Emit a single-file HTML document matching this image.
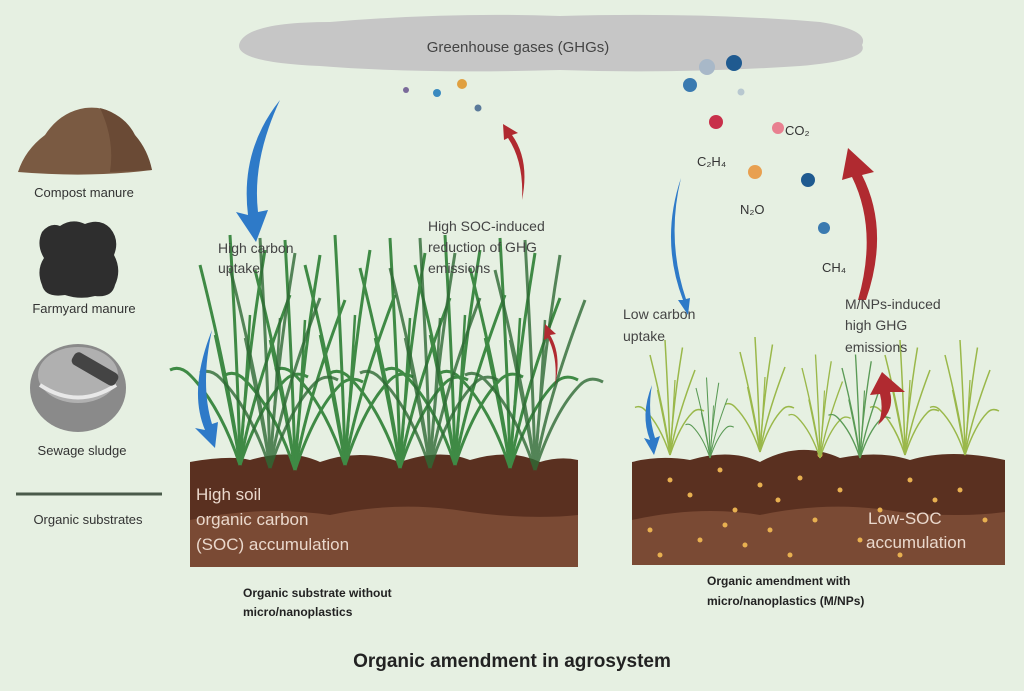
<!DOCTYPE html>
<html><head><meta charset="utf-8"><style>
html,body{margin:0;padding:0;background:#e6f0e2;}
svg{display:block;}
text{font-family:"Liberation Sans",sans-serif;}
</style></head><body>
<svg width="1024" height="691" viewBox="0 0 1024 691" xmlns="http://www.w3.org/2000/svg">
<defs>
<g id="clump">
<path d="M0,0 Q-10,-80 -40,-200" stroke="currentColor" stroke-width="3" fill="none"/>
<path d="M0,0 Q-2,-90 -10,-230" stroke="currentColor" stroke-width="3" fill="none"/>
<path d="M0,0 Q6,-100 25,-215" stroke="currentColor" stroke-width="3" fill="none"/>
<path d="M0,0 Q12,-70 50,-170" stroke="currentColor" stroke-width="3" fill="none"/>
<path d="M0,0 Q-20,-60 -50,-90 Q-60,-100 -70,-95" stroke="currentColor" stroke-width="3" fill="none"/>
<path d="M0,0 Q20,-60 45,-85 Q55,-95 68,-88" stroke="currentColor" stroke-width="3" fill="none"/>
<path d="M0,0 Q-8,-50 -25,-130" stroke="currentColor" stroke-width="2.5" fill="none"/>
<path d="M0,0 Q5,-60 10,-150" stroke="currentColor" stroke-width="2.5" fill="none"/>
</g>
</defs>
<rect width="1024" height="691" fill="#e6f0e2"/>
<path d="M240,42 Q250,22 330,22 Q450,12 560,16 Q700,12 820,22 Q870,30 862,45 Q870,60 800,66 Q680,74 560,70 Q420,74 320,66 Q230,62 240,42Z" fill="#c6c6c6"/>
<text x="518" y="52" text-anchor="middle" font-size="15" fill="#444">Greenhouse gases (GHGs)</text>
<circle cx="406" cy="90" r="3" fill="#7a6a9a"/><circle cx="437" cy="93" r="4" fill="#3a8ac0"/>
<circle cx="462" cy="84" r="5" fill="#e0a040"/><circle cx="478" cy="108" r="3.5" fill="#5a7a9a"/>
<circle cx="690" cy="85" r="7" fill="#3a7ab0"/><circle cx="707" cy="67" r="8" fill="#a8b8c8"/>
<circle cx="734" cy="63" r="8" fill="#1f5a90"/><circle cx="741" cy="92" r="3.5" fill="#b8c8d0"/>
<circle cx="716" cy="122" r="7" fill="#c8304a"/><circle cx="778" cy="128" r="6" fill="#e88090"/>
<circle cx="755" cy="172" r="7" fill="#e8a050"/><circle cx="808" cy="180" r="7" fill="#1f5a90"/>
<circle cx="824" cy="228" r="6" fill="#3a7ab0"/>
<g font-size="13" fill="#333">
<text x="697" y="166">C₂H₄</text><text x="785" y="135">CO₂</text><text x="740" y="214">N₂O</text><text x="822" y="272">CH₄</text>
</g>
<path d="M18,172 Q25,150 45,135 Q60,112 85,108 Q112,105 125,125 Q145,145 152,170 Q90,178 18,172Z" fill="#7a5a42"/>
<path d="M100,108 Q125,115 135,135 Q148,150 152,170 L110,172 Q115,140 100,108Z" fill="#6a4a35"/>
<text x="84" y="197" text-anchor="middle" font-size="13" fill="#333">Compost manure</text>
<path d="M42,232 Q50,222 60,226 Q72,218 85,224 Q100,218 110,228 Q120,240 114,255 Q122,270 115,285 Q112,298 95,296 Q80,300 65,295 Q45,298 42,285 Q36,270 44,258 Q36,245 42,232Z" fill="#2e2e2e"/>
<text x="84" y="313" text-anchor="middle" font-size="13" fill="#333">Farmyard manure</text>
<ellipse cx="78" cy="388" rx="48" ry="44" fill="#8a8a8a"/>
<ellipse cx="78" cy="375" rx="40" ry="28" fill="#b0b0b0"/>
<path d="M40,385 Q78,410 116,385" stroke="#e8e8e8" stroke-width="4" fill="none"/>
<rect x="70" y="362" width="50" height="14" rx="5" fill="#444" transform="rotate(30 95 369)"/>
<text x="82" y="455" text-anchor="middle" font-size="13" fill="#333">Sewage sludge</text>
<line x1="16" y1="494" x2="162" y2="494" stroke="#4a5a4a" stroke-width="3"/>
<text x="88" y="524" text-anchor="middle" font-size="13" fill="#333">Organic substrates</text>
<path d="M190,462 Q230,455 250,460 Q290,448 320,462 Q360,448 400,462 Q440,448 470,460 Q510,448 540,462 Q560,456 578,460 L578,567 L190,567Z" fill="#5a3020"/>
<path d="M190,520 Q260,505 330,515 Q400,500 470,512 Q530,520 578,515 L578,567 L190,567Z" fill="#7a4a34"/>
<g font-size="17" fill="#ead8cc">
<text x="196" y="500">High soil</text><text x="196" y="525">organic carbon</text><text x="196" y="550">(SOC) accumulation</text>
</g>
<g color="#3f8a45"><use href="#clump" x="240" y="465"/><use href="#clump" x="295" y="470"/><use href="#clump" x="345" y="465"/><use href="#clump" x="400" y="468"/><use href="#clump" x="455" y="465"/><use href="#clump" x="510" y="468"/></g>
<g color="#2f6a35" opacity="0.8"><use href="#clump" x="270" y="468"/><use href="#clump" x="430" y="468"/><use href="#clump" x="535" y="470"/></g>
<g font-size="12" font-weight="bold" fill="#222">
<text x="243" y="597">Organic substrate without</text><text x="243" y="616">micro/nanoplastics</text>
</g>
<path d="M632,462 Q660,455 690,460 Q730,448 760,462 Q800,440 840,458 Q880,450 910,460 Q950,448 1005,460 L1005,565 L632,565Z" fill="#5a3020"/>
<path d="M632,520 Q700,505 760,515 Q830,500 900,512 Q960,518 1005,512 L1005,565 L632,565Z" fill="#7a4a34"/>
<g fill="#e8b050">
<circle cx="670" cy="480" r="2.5"/><circle cx="690" cy="495" r="2.5"/><circle cx="720" cy="470" r="2.5"/><circle cx="735" cy="510" r="2.5"/><circle cx="760" cy="485" r="2.5"/><circle cx="778" cy="500" r="2.5"/><circle cx="800" cy="478" r="2.5"/><circle cx="815" cy="520" r="2.5"/><circle cx="650" cy="530" r="2.5"/><circle cx="700" cy="540" r="2.5"/><circle cx="745" cy="545" r="2.5"/><circle cx="790" cy="555" r="2.5"/><circle cx="840" cy="490" r="2.5"/><circle cx="860" cy="540" r="2.5"/><circle cx="910" cy="480" r="2.5"/><circle cx="935" cy="500" r="2.5"/><circle cx="960" cy="490" r="2.5"/><circle cx="985" cy="520" r="2.5"/><circle cx="660" cy="555" r="2.5"/><circle cx="820" cy="455" r="2.5"/><circle cx="880" cy="510" r="2.5"/><circle cx="725" cy="525" r="2.5"/><circle cx="770" cy="530" r="2.5"/><circle cx="900" cy="555" r="2.5"/>
</g>
<g font-size="17" fill="#ead8cc"><text x="868" y="524">Low-SOC</text><text x="866" y="548">accumulation</text></g>
<g color="#9ab84a">
<use href="#clump" transform="translate(670,455) scale(0.5)"/>
<use href="#clump" transform="translate(760,452) scale(0.5)"/>
<use href="#clump" transform="translate(820,458) scale(0.45)"/>
<use href="#clump" transform="translate(905,455) scale(0.5)"/>
<use href="#clump" transform="translate(965,455) scale(0.5)"/>
</g>
<g color="#5a9a55"><use href="#clump" transform="translate(860,458) scale(0.45)"/><use href="#clump" transform="translate(710,458) scale(0.35)"/></g>
<g font-size="12" font-weight="bold" fill="#222">
<text x="707" y="585">Organic amendment with</text><text x="707" y="605">micro/nanoplastics (M/NPs)</text>
</g>
<path d="M280,100 Q240,150 248,215 L236,212 L256,242 L268,210 L258,212 Q252,160 280,100Z" fill="#2e7ac8"/>
<path d="M212,330 Q188,390 205,430 L195,428 L215,448 L218,422 L212,424 Q200,385 212,330Z" fill="#2e7ac8"/>
<path d="M522,200 Q530,160 512,135 L518,133 L503,124 L504,140 L508,138 Q524,162 522,200Z" fill="#b02a30"/>
<path d="M555,385 Q562,355 550,335 L556,334 L545,324 L544,340 L548,338 Q558,358 555,385Z" fill="#b02a30"/>
<path d="M681,178 Q660,240 683,300 L678,300 L688,315 L690,298 L686,299 Q666,240 681,178Z" fill="#2e7ac8"/>
<path d="M652,385 Q640,415 650,440 L644,438 L654,455 L660,436 L655,438 Q647,412 652,385Z" fill="#2e7ac8"/>
<path d="M866,300 Q890,230 862,175 L874,172 L848,148 L842,180 L852,177 Q878,230 858,300Z" fill="#b02a30"/>
<path d="M878,425 Q895,410 890,392 L905,392 L882,372 L870,395 L880,394 Q884,410 878,425Z" fill="#b02a30"/>
<g font-size="14" fill="#444">
<text x="218" y="253">High  carbon</text><text x="218" y="273">uptake</text>
<text x="428" y="231">High SOC-induced</text><text x="428" y="252">reduction of GHG</text><text x="428" y="273">emissions</text>
<text x="623" y="319">Low carbon</text><text x="623" y="341">uptake</text>
<text x="845" y="309">M/NPs-induced</text><text x="845" y="330">high GHG</text><text x="845" y="352">emissions</text>
</g>
<text x="512" y="667" text-anchor="middle" font-size="19" font-weight="bold" fill="#222">Organic amendment in agrosystem</text>
</svg>
</body></html>
